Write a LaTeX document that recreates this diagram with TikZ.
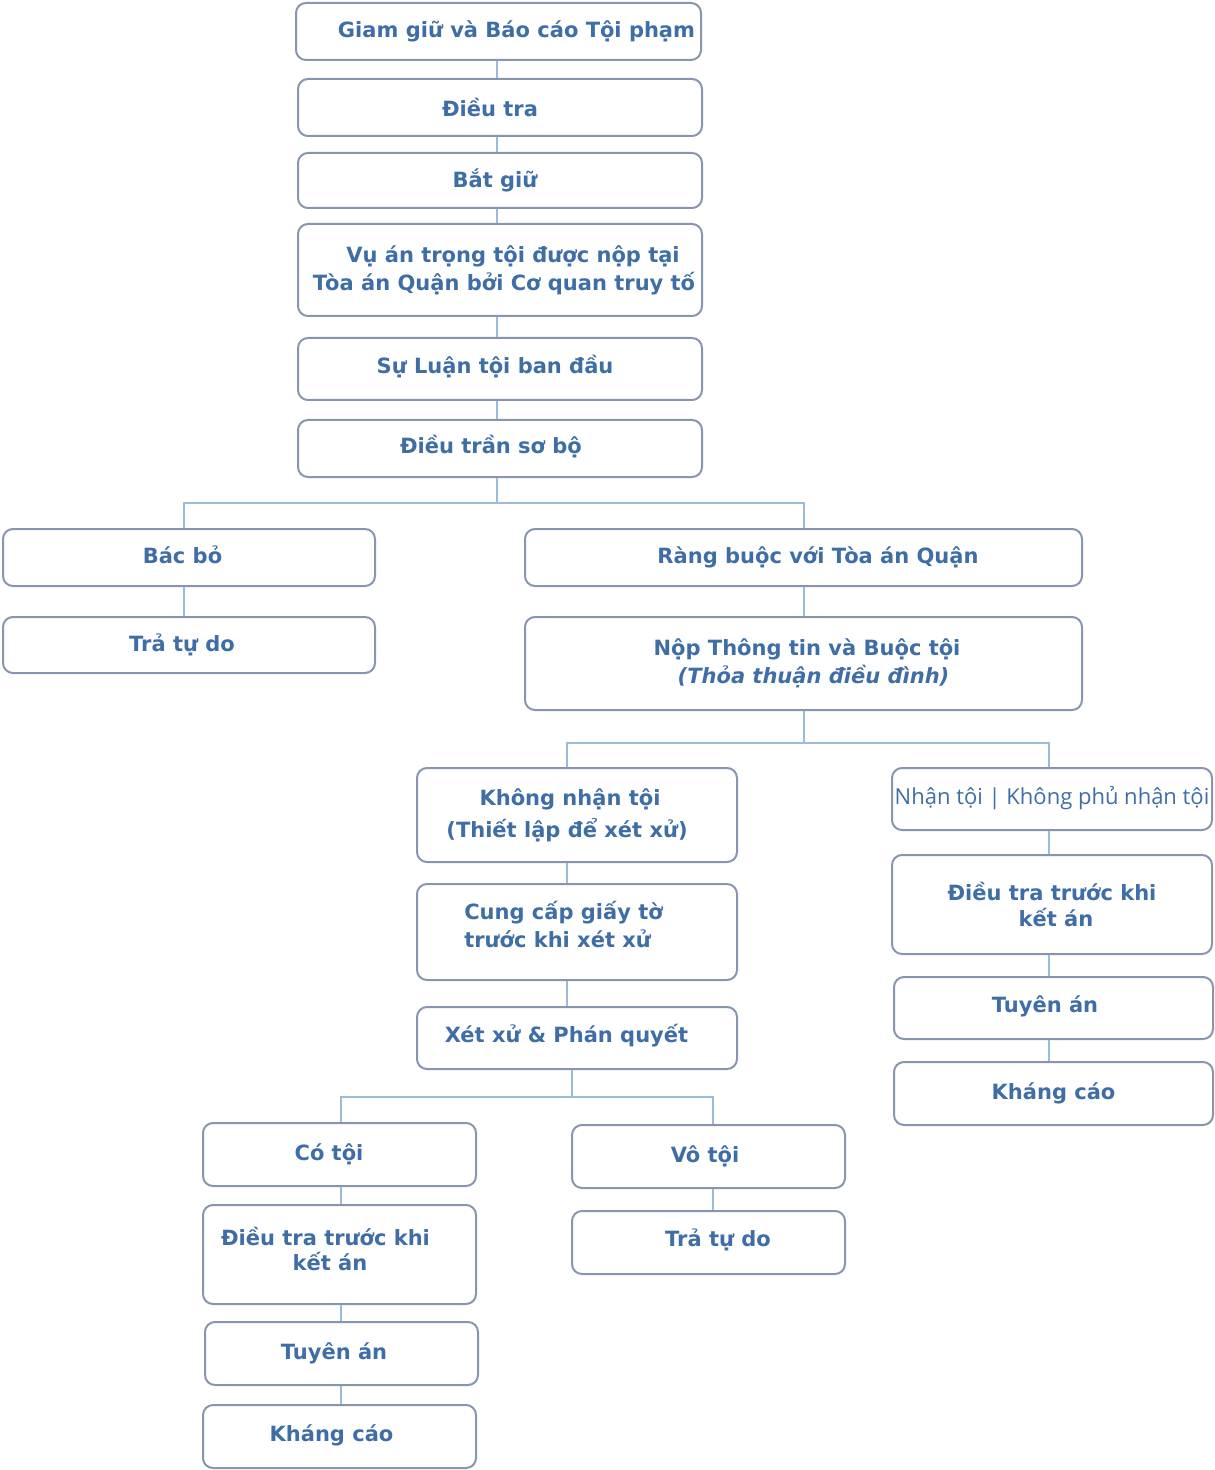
\documentclass[tikz,border=0pt]{standalone}
\usepackage{fontspec}
\setmainfont{DejaVu Sans}
\newfontfamily\opensans{Open Sans}
\definecolor{txt}{HTML}{3F6EA6}
\definecolor{bord}{HTML}{8795AE}
\definecolor{conn}{HTML}{9BBBDD}
\newcommand\bx[7][]{%
  \pgfmathsetmacro\bw{(#5-#3)*0.5}%
  \pgfmathsetmacro\bh{(#6-#4)*0.5}%
  \node[box,minimum width=\bw pt,minimum height=\bh pt,#1] (#2) at ({(#3+#5)/2},{(#4+#6)/2}) {#7};}
\newcommand\dpth[1]{\rule[-#1pt]{0pt}{1pt}}
\begin{document}
\begin{tikzpicture}[x=0.5pt,y=-0.5pt,
  box/.style={draw=bord,line width=1pt,rounded corners=5pt,fill=white,inner sep=0pt,
    align=center,text=txt,font=\fontsize{10.5}{14}\selectfont\bfseries},
  link/.style={draw=conn,line width=1pt}]
\useasboundingbox (0,0) rectangle (1214,1470);
\coordinate (sT) at (497,0);
\coordinate (sL) at (184,0);
\coordinate (sR) at (804,0);
\coordinate (sK) at (567,0);
\coordinate (sN) at (1049,0);
\coordinate (sC) at (341,0);
\coordinate (sV) at (713,0);
\coordinate (sX) at (572,0);
\coordinate (j1) at (497,503);
\coordinate (j2) at (804,743);
\coordinate (j3) at (572,1097);
\bx{b1}{296}{3}{701}{60}{\hspace*{18pt}Giam giữ và Báo cáo Tội phạm}
\bx{b2}{298}{79}{702}{136}{Điều tra\hspace*{10pt}}
\bx{b3}{298}{153}{702}{208}{Bắt giữ\hspace*{5pt}}
\bx{b4}{298}{224}{702}{316}{\hspace*{13pt}Vụ án trọng tội được nộp tại\\\hspace*{4pt}Tòa án Quận bởi Cơ quan truy tố}
\bx{b5}{298}{338}{702}{400}{Sự Luận tội ban đầu\hspace*{5pt}\dpth{4.5}}
\bx{b6}{298}{420}{702}{477}{Điều trần sơ bộ\hspace*{9pt}\dpth{4}}
\bx{l1}{3}{529}{375}{586}{Bác bỏ\hspace*{6.5pt}\dpth{3}}
\bx{l2}{3}{617}{375}{673}{Trả tự do\hspace*{7pt}}
\bx{r1}{525}{529}{1082}{586}{\hspace*{14.5pt}Ràng buộc với Tòa án Quận\dpth{2.5}}
\bx{r2}{525}{617}{1082}{710}{\hspace*{3.5pt}Nộp Thông tin và Buộc tội\\\hspace*{10pt}\itshape(Thỏa thuận điều đình)}
\bx{k1}{417}{768}{737}{862}{Không nhận tội\hspace*{7pt}\\[2pt](Thiết lập để xét xử)\hspace*{10pt}}
\bx[font=\opensans\fontsize{11}{13}\selectfont]{n1}{892}{768}{1212}{830}{Nhận tội | Không phủ nhận tội\dpth{4}}
\bx{k2}{417}{884}{737}{980}{\begin{tabular}{@{}l@{}}Cung cấp giấy tờ\\trước khi xét xử\dpth{8.5}\end{tabular}\hspace*{13.5pt}}
\bx{k3}{417}{1007}{737}{1069}{Xét xử \& Phán quyết\hspace*{10.5pt}\dpth{4.5}}
\bx{c1}{203}{1123}{476}{1186}{Có tội\hspace*{10.5pt}\dpth{2.5}}
\bx{c2}{203}{1205}{476}{1304}{Điều tra trước khi\hspace*{14pt}\\[-1.5pt]kết án\hspace*{9.5pt}\dpth{5.5}}
\bx{c3}{205}{1322}{478}{1385}{Tuyên án\hspace*{7.5pt}}
\bx{c4}{203}{1405}{476}{1468}{Kháng cáo\hspace*{8pt}\dpth{3.5}}
\bx{v1}{572}{1125}{845}{1188}{Vô tội\hspace*{3.5pt}\dpth{2.5}}
\bx{v2}{572}{1211}{845}{1274}{\hspace*{9.5pt}Trả tự do\dpth{4.5}}
\bx{n2}{892}{855}{1212}{954}{Điều tra trước khi\\[-1pt]\hspace*{4pt}kết án}
\bx{n3}{894}{977}{1213}{1039}{Tuyên án\hspace*{8.5pt}\dpth{3.5}}
\bx{n4}{894}{1062}{1213}{1125}{Kháng cáo}
\draw[link] (b1.south -| sT) -- (b2.north -| sT);
\draw[link] (b2.south -| sT) -- (b3.north -| sT);
\draw[link] (b3.south -| sT) -- (b4.north -| sT);
\draw[link] (b4.south -| sT) -- (b5.north -| sT);
\draw[link] (b5.south -| sT) -- (b6.north -| sT);
\draw[link] (b6.south -| sT) -- (j1);
\draw[link] (l1.north -| sL) |- (j1) -| (r1.north -| sR);
\draw[link] (l1.south -| sL) -- (l2.north -| sL);
\draw[link] (r1.south -| sR) -- (r2.north -| sR);
\draw[link] (r2.south -| sR) -- (j2);
\draw[link] (k1.north -| sK) |- (j2) -| (n1.north -| sN);
\draw[link] (k1.south -| sK) -- (k2.north -| sK);
\draw[link] (k2.south -| sK) -- (k3.north -| sK);
\draw[link] (k3.south -| sX) -- (j3);
\draw[link] (c1.north -| sC) |- (j3) -| (v1.north -| sV);
\draw[link] (c1.south -| sC) -- (c2.north -| sC);
\draw[link] (c2.south -| sC) -- (c3.north -| sC);
\draw[link] (c3.south -| sC) -- (c4.north -| sC);
\draw[link] (v1.south -| sV) -- (v2.north -| sV);
\draw[link] (n1.south -| sN) -- (n2.north -| sN);
\draw[link] (n2.south -| sN) -- (n3.north -| sN);
\draw[link] (n3.south -| sN) -- (n4.north -| sN);
\end{tikzpicture}
\end{document}
